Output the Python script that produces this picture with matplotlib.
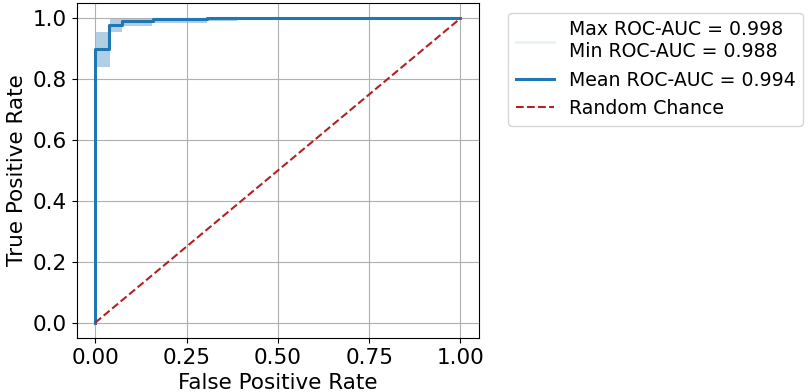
import matplotlib
matplotlib.use("Agg")
import matplotlib.pyplot as plt
from matplotlib.lines import Line2D

# mean ROC curve (step points)
mean_fpr = [0.0, 0.0, 0.037, 0.073, 0.157, 0.305, 1.0]
mean_tpr = [0.0, 0.900, 0.979, 0.990, 0.997, 1.0, 1.0]

# min / max envelope across folds
band_fpr = [0.0, 0.040, 0.073, 0.155, 0.305, 0.387, 1.0]
band_lo = [0.84, 0.955, 0.974, 0.985, 0.990, 1.0, 1.0]
band_hi = [0.955, 1.0, 1.0, 1.0, 1.0, 1.0, 1.0]

max_auc = 0.998
min_auc = 0.988
mean_auc = 0.994

plt.rcParams['font.size'] = 15.5

fig = plt.figure(figsize=(8.1, 3.92), dpi=100)
ax = fig.add_axes([0.095, 0.138, 0.496, 0.854])

ax.fill_between(band_fpr, band_lo, band_hi, step='post', color='C0', alpha=0.35, linewidth=0)
ax.step(mean_fpr, mean_tpr, where='post', color='C0', lw=2.2)
ax.plot([0, 1], [0, 1], linestyle='--', color='firebrick', lw=1.5)

ax.set_xlabel("False Positive Rate")
ax.set_ylabel("True Positive Rate")
ax.grid(True, color='#b0b0b0', lw=0.8)
ax.set_xticks([0, 0.25, 0.5, 0.75, 1.0])
ax.set_yticks([0, 0.2, 0.4, 0.6, 0.8, 1.0])

handles = [
    Line2D([], [], color='C0', alpha=0.1, lw=2),
    Line2D([], [], color='C0', lw=2.2),
    Line2D([], [], color='firebrick', linestyle='--', lw=1.5),
]
labels = [
    "Max ROC-AUC = %.3f\nMin ROC-AUC = %.3f" % (max_auc, min_auc),
    "Mean ROC-AUC = %.3f" % mean_auc,
    "Random Chance",
]
ax.legend(handles, labels, loc='upper left', bbox_to_anchor=(1.05, 1), fontsize=13.6)

fig.savefig("out.png", dpi=100)
